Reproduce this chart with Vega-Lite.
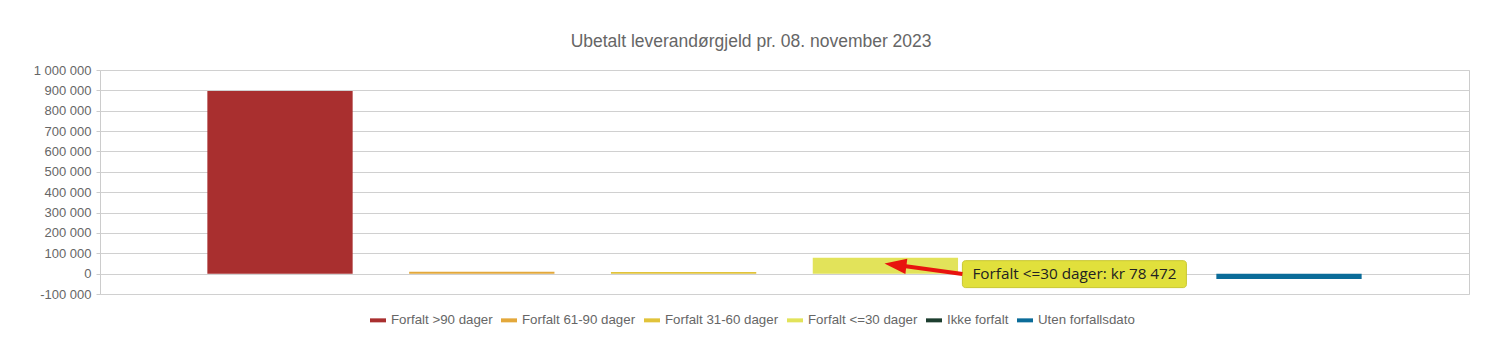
{
  "$schema": "https://vega.github.io/schema/vega-lite/v6.json",
  "width": 1369,
  "height": 224,
  "autosize": {"type": "pad"},
  "padding": {"left": 33, "top": 32, "right": 35, "bottom": 10},
  "background": "white",
  "title": {
    "text": "Ubetalt leverandørgjeld pr. 08. november 2023",
    "font": "Liberation Sans",
    "fontSize": 17.5,
    "fontWeight": "normal",
    "color": "#666666",
    "anchor": "middle",
    "frame": "bounds",
    "offset": 14
  },
  "data": {
    "values": [
      {"kategori": "Forfalt >90 dager", "belop": 897000},
      {"kategori": "Forfalt 61-90 dager", "belop": 9000},
      {"kategori": "Forfalt 31-60 dager", "belop": 8000},
      {"kategori": "Forfalt <=30 dager", "belop": 78472},
      {"kategori": "Ikke forfalt", "belop": 0},
      {"kategori": "Uten forfallsdato", "belop": -26000}
    ]
  },
  "encoding": {
    "x": {
      "field": "kategori",
      "type": "nominal",
      "sort": null,
      "scale": {"paddingInner": 0.28, "paddingOuter": 0.532},
      "axis": null
    },
    "y": {
      "field": "belop",
      "type": "quantitative",
      "scale": {"domain": [-100000, 1000000], "nice": false, "zero": false},
      "axis": {
        "title": null,
        "values": [-100000, 0, 100000, 200000, 300000, 400000, 500000, 600000, 700000, 800000, 900000, 1000000],
        "format": ",.0f",
        "domain": false,
        "tickSize": 4,
        "tickColor": "#cccccc",
        "gridColor": "#d0d0d0",
        "labelFont": "Liberation Sans",
        "labelFontSize": 13,
        "labelColor": "#666666",
        "labelPadding": 5
      }
    }
  },
  "layer": [
    {
      "mark": {"type": "bar"},
      "encoding": {
        "color": {
          "field": "kategori",
          "type": "nominal",
          "scale": {
            "domain": ["Forfalt >90 dager", "Forfalt 61-90 dager", "Forfalt 31-60 dager", "Forfalt <=30 dager", "Ikke forfalt", "Uten forfallsdato"],
            "range": ["#A92F2F", "#E3A83B", "#E1C33A", "#E2E35A", "#1D3E2F", "#0B6C99"]
          },
          "legend": {
            "title": null,
            "orient": "none",
            "legendX": 270,
            "legendY": 242,
            "direction": "horizontal",
            "symbolType": "M -1 -0.25 L 1 -0.25 L 1 0.25 L -1 0.25 Z",
            "symbolSize": 256,
            "symbolStrokeWidth": 0,
            "labelFont": "Liberation Sans",
            "labelFontSize": 13.3,
            "labelColor": "#666666",
            "labelOffset": 5,
            "columnPadding": 8
          }
        }
      }
    },
    {
      "transform": [
        {"filter": "datum.kategori === 'Forfalt <=30 dager'"},
        {"calculate": "'Forfalt <=30 dager: kr ' + format(datum.belop, ',')", "as": "etikett"}
      ],
      "layer": [
        {
          "mark": {"type": "bar", "width": 224, "xOffset": 189, "cornerRadius": 3, "fill": "#E1E03C", "stroke": "#C9C731", "strokeWidth": 1},
          "encoding": {
            "y": {"datum": 63700, "type": "quantitative"},
            "y2": {"datum": -68600}
          }
        },
        {
          "mark": {"type": "text", "align": "left", "baseline": "middle", "dx": 87, "font": "Open Sans", "fontSize": 15.3, "color": "#222222"},
          "encoding": {
            "y": {"datum": 0, "type": "quantitative"},
            "text": {"field": "etikett"}
          }
        },
        {
          "mark": {"type": "rule", "color": "#E8130E", "strokeWidth": 4, "xOffset": 15, "x2Offset": 77},
          "encoding": {
            "x2": {"field": "kategori"},
            "y": {"datum": 40000, "type": "quantitative"},
            "y2": {"datum": -2000}
          }
        },
        {
          "mark": {"type": "point", "shape": "M -1 0 L 1 -0.7 L 1 0.7 Z", "filled": true, "size": 484, "angle": 7, "color": "#E8130E", "opacity": 1, "strokeWidth": 0, "xOffset": 10},
          "encoding": {
            "y": {"datum": 42600, "type": "quantitative"}
          }
        }
      ]
    }
  ],
  "config": {
    "locale": {
      "number": {"decimal": ",", "thousands": " ", "grouping": [3], "currency": ["kr ", ""], "minus": "-"}
    },
    "view": {"stroke": "#cccccc"}
  }
}
